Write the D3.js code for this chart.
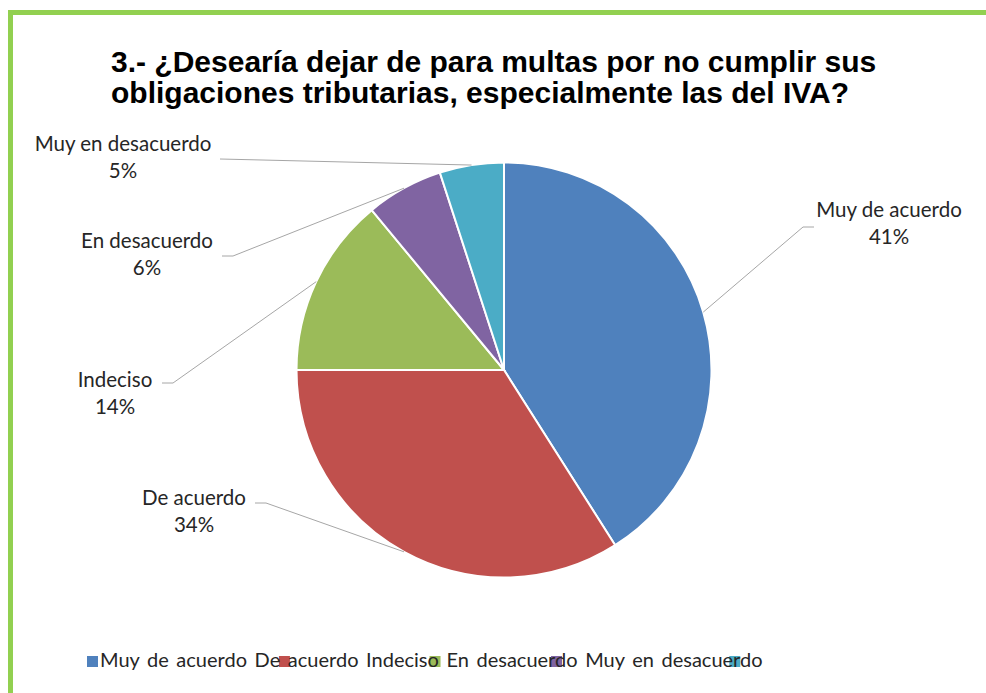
<!DOCTYPE html>
<html>
<head>
<meta charset="utf-8">
<script src="https://cdn.jsdelivr.net/npm/d3@7"></script>
<style>
  body { margin: 0; background: #fff; }
  svg { display: block; }
</style>
</head>
<body>
<svg id="chart" width="986" height="693"></svg>
<script>
// data
const categories = ['Muy de acuerdo', 'De acuerdo', 'Indeciso', 'En desacuerdo', 'Muy en desacuerdo']
const values = [41, 34, 14, 6, 5]
const colors = ['#4f81bd', '#c0504d', '#9bbb59', '#8064a2', '#4bacc6']
const titleLines = ['3.- ¿Desearía dejar de para multas por no cumplir sus',
                    'obligaciones tributarias, especialmente las del IVA?']

// layout
const width = 986, height = 693
const cx = 504, cy = 370, radius = 207.5
const labelFont = 'Lato, "Open Sans", sans-serif'
// hand placed label boxes, offset from pie centre: [text centre x, first baseline y, elbow x, elbow y, side]
const labelPos = [
    [385, -153, 299, -143, 1],
    [-310, 135, -238, 133, -1],
    [-389, 17, -331, 13, -1],
    [-357, -122, -271, -114, -1],
    [-381, -219, -284, -211, -1]
]

const svg = d3.select('#chart')

// green frame, top and left only
svg.append('path')
    .attr('d', 'M 10.5 ' + height + ' L 10.5 12.5 L ' + width + ' 12.5')
    .attr('fill', 'none')
    .attr('stroke', '#92d050')
    .attr('stroke-width', 5)

svg.append('g').selectAll('text')
    .data(titleLines)
    .join('text')
        .attr('x', 111)
        .attr('y', (d, i) => 72 + i * 31)
        .attr('font-family', '"Liberation Sans", Arial, sans-serif')
        .attr('font-weight', 'bold')
        .attr('font-size', 30)
        .attr('fill', '#000')
        .text(d => d)

const pie = d3.pie().sort(null).value(d => d)
const arcs = pie(values)
const arc = d3.arc().innerRadius(0).outerRadius(radius)
const edge = d3.arc().innerRadius(radius).outerRadius(radius)

const g = svg.append('g').attr('transform', 'translate(' + cx + ',' + cy + ')')

g.selectAll('path.slice')
    .data(arcs)
    .join('path')
        .attr('class', 'slice')
        .attr('d', arc)
        .attr('fill', (d, i) => colors[i])
        .attr('stroke', '#fff')
        .attr('stroke-width', 2)

// leader lines: slice edge -> elbow -> short horizontal tick
g.selectAll('path.leader')
    .data(arcs)
    .join('path')
        .attr('class', 'leader')
        .attr('fill', 'none')
        .attr('stroke', '#a6a6a6')
        .attr('stroke-width', 1)
        .attr('d', (d, i) => {
            let p = edge.centroid(d)
            let l = labelPos[i]
            let tick = i == 4 ? 0 : 11
            return 'M ' + p + ' L ' + l[2] + ' ' + l[3] + ' L ' + (l[2] + l[4] * tick) + ' ' + l[3]
        })

const labels = g.selectAll('g.label')
    .data(arcs)
    .join('g')
        .attr('class', 'label')
        .attr('font-family', labelFont)
        .attr('font-size', 20.5)
        .attr('fill', '#262626')
        .attr('text-anchor', 'middle')

labels.append('text')
    .attr('x', (d, i) => labelPos[i][0])
    .attr('y', (d, i) => labelPos[i][1])
    .text((d, i) => categories[i])

labels.append('text')
    .attr('x', (d, i) => labelPos[i][0])
    .attr('y', (d, i) => labelPos[i][1] + 26.5)
    .text(d => Math.round(d.data) + '%')

// legend: one run of text, swatches spaced from the label widths (as the original misaligns them)
const legend = svg.append('g')
    .attr('font-family', labelFont)
    .attr('font-size', 20)
    .attr('fill', '#262626')

let probe = legend.append('text')
let widths = categories.map(c => {
    probe.text(c)
    return probe.node().getComputedTextLength()
})
probe.remove()

let swatchX = [87]
for (let i = 1; i < categories.length; i++) {
    swatchX.push(swatchX[i - 1] + widths[i - 1] * 1.017 + 47.5)
}

legend.selectAll('rect')
    .data(categories)
    .join('rect')
        .attr('x', (d, i) => swatchX[i])
        .attr('y', 656)
        .attr('width', 11)
        .attr('height', 11)
        .attr('fill', (d, i) => colors[i])

legend.append('text')
    .attr('x', 100)
    .attr('y', 667)
    .attr('word-spacing', 2.5)
    .text(categories.join(' '))
</script>
</body>
</html>
